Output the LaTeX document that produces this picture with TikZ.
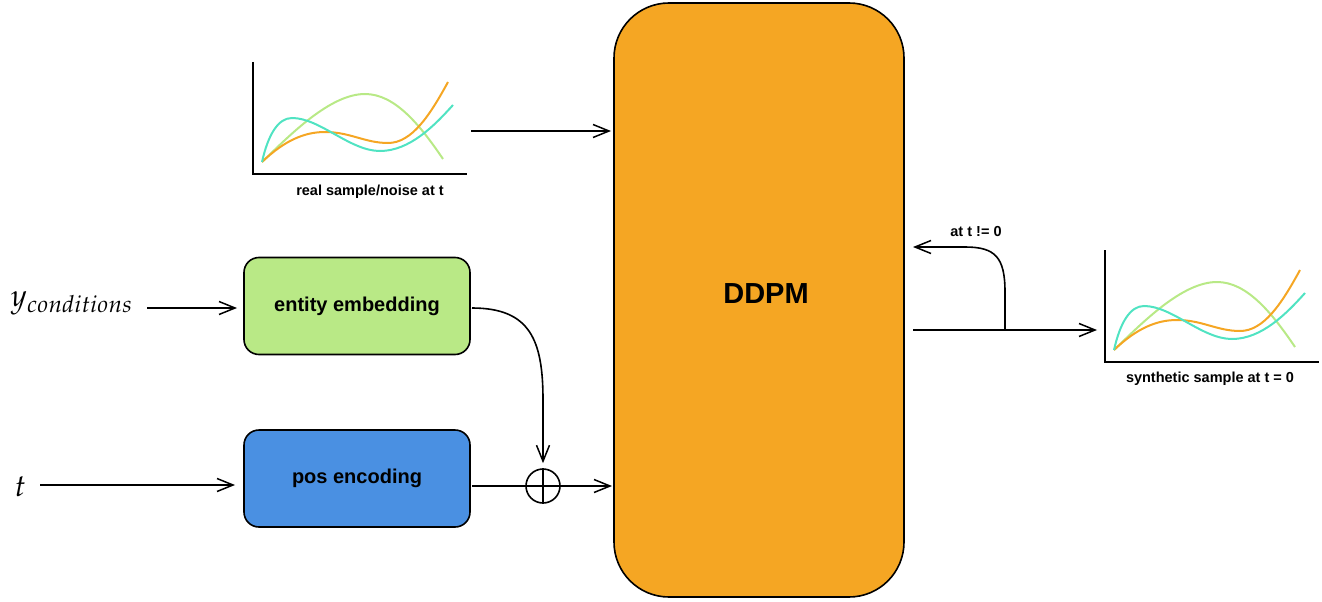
\documentclass[tikz,border=0pt]{standalone}
\usepackage{mathpazo}
\usepackage{fontspec}
\newfontfamily\hv{Liberation Sans}
\usetikzlibrary{arrows.meta}
\definecolor{ddpmorange}{HTML}{F5A623}
\definecolor{entgreen}{HTML}{B9E986}
\definecolor{posblue}{HTML}{4A90E2}
\definecolor{curveteal}{HTML}{50E3C2}
\definecolor{curvegreen}{HTML}{B8E986}
\definecolor{curveorange}{HTML}{F5A623}
\newcommand\chartdraw{%
  \draw[axis] (253,62) -- (253,174) -- (467,174);
  \draw[curve, curvegreen] (262,162) .. controls (290,135) and (330,94) .. (365,94)
    .. controls (395,94) and (420,125) .. (443,159);
  \draw[curve, curveorange] (262,162) .. controls (285,140) and (305,132) .. (325,132)
    .. controls (350,132) and (365,143) .. (388,143)
    .. controls (412,143) and (430,115) .. (448,82);
  \draw[curve, curveteal] (262,162) .. controls (268,135) and (278,118) .. (292,118)
    .. controls (320,118) and (350,151) .. (380,151)
    .. controls (410,151) and (435,125) .. (453,105);
}
\begin{document}
\begin{tikzpicture}[x=1pt,y=-1pt, line width=1.6pt,
  arr/.style={-{Straight Barb[length=16pt,width=13pt,line width=1.5pt]}},
  axis/.style={line width=1.6pt, black},
  curve/.style={line width=2pt},
  box/.style={draw, rounded corners=15pt, minimum width=226pt, minimum height=97pt,
    font=\hv\bfseries\fontsize{20}{24}\selectfont},
  lbl/.style={font=\hv\bfseries\fontsize{14.5}{17}\selectfont, inner sep=0pt},
  mathlbl/.style={font=\fontsize{31}{36}\selectfont, inner sep=0pt, anchor=base west}]
\useasboundingbox (0,0) rectangle (1322,602);

% DDPM block
\node[draw, rounded corners=55pt, fill=ddpmorange, minimum width=290pt,
      minimum height=594pt] (ddpm) at (759,300) {};
\node[font=\hv\bfseries\fontsize{29}{34}\selectfont] (ddpmlabel) at (766,294) {DDPM};

% boxes
\node[box, fill=entgreen] (ent) at (357,306) {entity embedding};
\node[box, fill=posblue] (pos) at (357,478.5) {pos encoding};

% inputs
\node[mathlbl] (ylab) at (10,306) {$y_{conditions}$};
\node[mathlbl] (tlab) at (14,496) {$t$};
\coordinate (ys) at (147,308);
\coordinate (ye) at (237,308);
\coordinate (ts) at (40,485);
\coordinate (te) at (235,485);
\draw[arr] (ys) -- (ye);
\draw[arr] (ts) -- (te);

% plus
\node[circle, draw, minimum size=34pt, inner sep=0pt] (plus) at (543,486) {};
\draw (plus.north) -- (plus.south);
\draw (plus.west) -- (plus.east);
\coordinate (ps) at (472,486);
\coordinate (pe) at (612,486);
\draw (ps) -- (plus.west);
\draw[arr] (plus.east) -- (pe);
\coordinate (es) at (472,308);
\draw[arr] (es) .. controls (530,308) and (543,340) .. (543,400) -- ([yshift=5pt]plus.north);

% top chart
\chartdraw
\node[lbl] (realtxt) at (370,192) {real sample/noise at t};
\coordinate (cs) at (471,131);
\coordinate (ce) at (611,131);
\draw[arr] (cs) -- (ce);

% output
\coordinate (os) at (913,330);
\coordinate (oe) at (1097,330);
\coordinate (br) at (1005,330);
\coordinate (fb) at (913,247);
\draw[arr] (os) -- (oe);
\draw[arr] (br) -- (1005,292) .. controls (1005,257) and (995,247) .. (965,247) -- (fb);
\node[lbl] (fbtxt) at (976,232) {at t != 0};

% right chart
\begin{scope}[shift={(852,188)}]
\chartdraw
\end{scope}
\node[lbl] (syntxt) at (1210,379) {synthetic sample at t = 0};
\end{tikzpicture}
\end{document}
